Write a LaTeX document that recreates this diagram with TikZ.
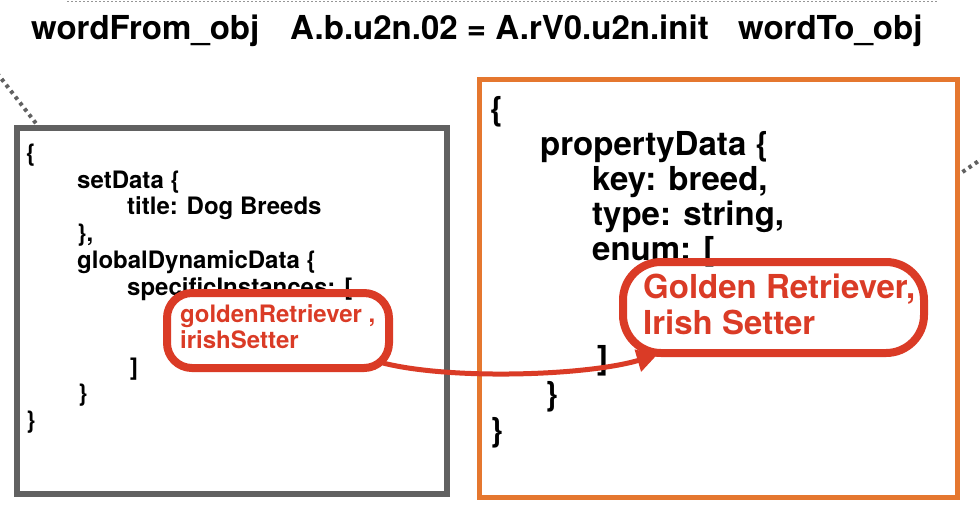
\documentclass[tikz,border=0pt]{standalone}
\usepackage{fontspec}
\setmainfont{TeX Gyre Heros}
\usetikzlibrary{arrows.meta,calc}
\definecolor{boxgray}{RGB}{97,97,97}
\definecolor{boxorange}{RGB}{229,119,47}
\definecolor{hlred}{RGB}{218,59,38}
\definecolor{dotgray}{RGB}{150,150,150}
\begin{document}
\begin{tikzpicture}[x=1pt,y=-1pt,
  title/.style={anchor=base west, inner sep=0pt, font=\bfseries\fontsize{33}{36}\selectfont},
  code/.style={anchor=base west, inner sep=0pt, font=\bfseries\fontsize{24}{28}\selectfont},
  bigcode/.style={anchor=base west, inner sep=0pt, font=\bfseries\fontsize{33}{36}\selectfont},
  framebox/.style={draw, inner sep=0pt, outer sep=0pt},
  hlbox/.style={draw=hlred, line width=8pt, inner sep=0pt, outer sep=0pt},
  dotline/.style={draw=boxgray, line width=4pt, dash pattern=on 3.5pt off 4pt}]
\useasboundingbox (0,0) rectangle (980,528);
% top dotted rule
\coordinate (ta) at (67,1.5);
\coordinate (tb) at (937,1.5);
\draw[dotgray, line width=1.5pt, dash pattern=on 2pt off 2pt] (ta) -- (tb);
% title
\node[title] (t1) at (31,39) {wordFrom\_obj};
\node[title] (t2) at (290,39) {A.b.u2n.02 = A.rV0.u2n.init};
\node[title] (t3) at (738,39) {wordTo\_obj};
% frames
\node[framebox, draw=boxgray, line width=6pt, minimum width=430pt, minimum height=366pt] (lbox) at (232,311) {};
\node[framebox, draw=boxorange, line width=5pt, minimum width=478pt, minimum height=418.5pt] (rbox) at (718.5,288.25) {};
% dotted stubs
\coordinate (dl) at (-3,73);
\coordinate (dr) at (983,158);
\draw[dotline] (dl) -- ($(lbox.north west)+(21,-2)$);
\draw[dotline] ($(rbox.north east)+(5,93)$) -- (dr);
% left code
\node[code] (l1) at (26,161) {\{};
\node[code] (l2) at (77,188) {setData \{};
\node[code] (l3) at (127,214) {title: Dog Breeds};
\node[code] (l4) at (77,241) {\},};
\node[code] (l5) at (77,268) {globalDynamicData \{};
\node[code] (l6) at (127,295) {specificInstances: [};
\node[code, text=hlred] (l7) at (180,322) {goldenRetriever ,};
\node[code, text=hlred] (l8) at (180,348) {irishSetter};
\node[code] (l9) at (130,375) {]};
\node[code] (l10) at (78,401) {\}};
\node[code] (l11) at (26,428) {\}};
% right code
\node[bigcode] (r1) at (490,120) {\{};
\node[bigcode] (r2) at (540,155) {propertyData \{};
\node[bigcode] (r3) at (592,190) {key: breed,};
\node[bigcode] (r4) at (592,225) {type: string,};
\node[bigcode] (r5) at (592,260) {enum: [};
\node[bigcode, text=hlred] (r6) at (643,298) {Golden Retriever,};
\node[bigcode, text=hlred] (r7) at (643,334) {Irish Setter};
\node[bigcode] (r8) at (597,369) {]};
\node[bigcode] (r9) at (545,405) {\}};
\node[bigcode] (r10) at (490,441) {\}};
% highlight boxes
\node[hlbox, rounded corners=25pt, minimum width=222pt, minimum height=75pt] (lr) at (278,330.5) {};
\node[hlbox, rounded corners=38pt, minimum width=301pt, minimum height=91pt] (rr) at (773.5,307.5) {};
% arrow
\draw[hlred, line width=5pt, -{Triangle[length=20pt,width=22pt]}]
  ($(lr.center)+(105,32.5)$) .. controls (450,380) and (585,376) .. ($(rr.center)+(-116.5,47.5)$);
\end{tikzpicture}
\end{document}
